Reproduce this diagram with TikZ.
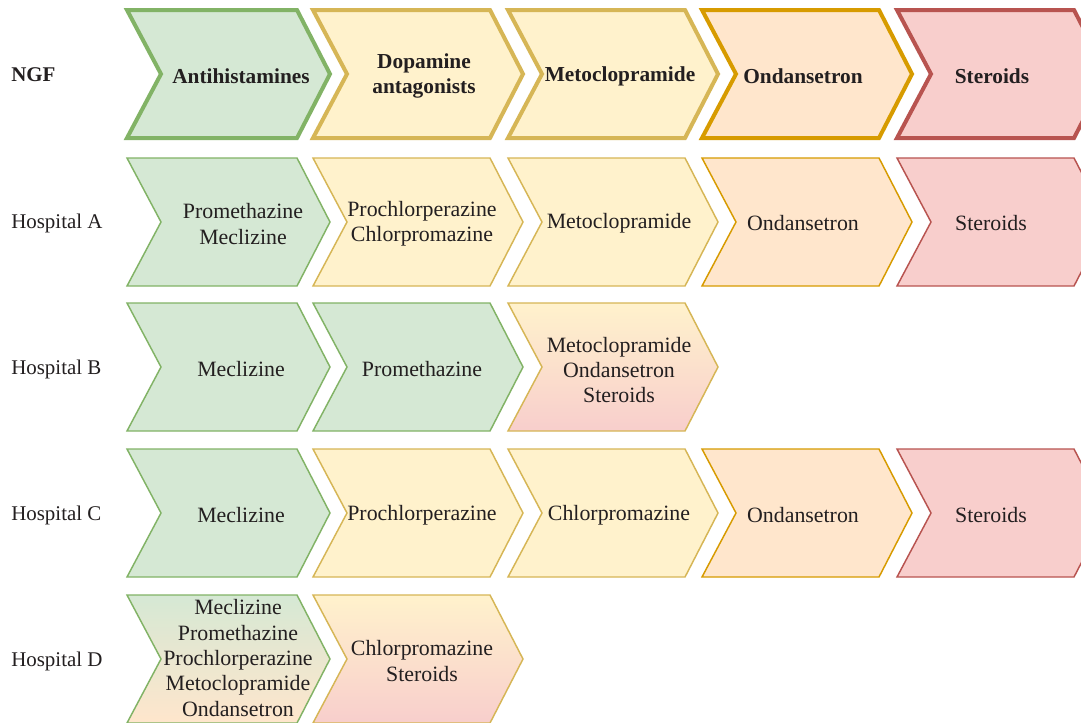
\documentclass[tikz,border=0pt]{standalone}
\usepackage{fontspec}
\setmainfont{Liberation Serif}
\definecolor{gfill}{HTML}{D5E8D4}\definecolor{gline}{HTML}{82B366}
\definecolor{yfill}{HTML}{FFF2CC}\definecolor{yline}{HTML}{D6B656}
\definecolor{ofill}{HTML}{FFE6CC}\definecolor{oline}{HTML}{D79B00}
\definecolor{rfill}{HTML}{F8CECC}\definecolor{rline}{HTML}{B85450}
\definecolor{txt}{HTML}{231F20}
\newcommand\chev[4]{\draw[#1] (#2,#4-64) -- (#3-33,#4-64) -- (#3,#4) -- (#3-33,#4+64) -- (#2,#4+64) -- (#2+34,#4) -- cycle;}
\tikzset{
  green/.style={fill=gfill,draw=gline},
  yellow/.style={fill=yfill,draw=yline},
  orange/.style={fill=ofill,draw=oline},
  red/.style={fill=rfill,draw=rline},
  thin/.style={line width=1.1pt,line join=miter},
  thick/.style={line width=3pt,line join=miter},
  lbl/.style={text=txt,align=center,inner sep=0pt,font=\fontsize{16.4}{19}\selectfont},
  hlbl/.style={lbl,font=\fontsize{16}{19}\selectfont\bfseries},
  side/.style={text=txt,anchor=west,inner sep=0pt,font=\fontsize{15.7}{19}\selectfont},
}
\begin{document}
\begin{tikzpicture}[x=0.75pt,y=-0.75pt]
\useasboundingbox[fill=white] (0,0) rectangle (1081,722);
\clip (0,0) rectangle (1081,722);
% row 1: NGF
\chev{green,thick}{127}{330}{74}
\chev{yellow,thick}{313}{523}{74}
\chev{yellow,thick}{508}{718}{74}
\chev{orange,thick}{702}{912}{74}
\chev{red,thick}{897}{1107}{74}
\node[side,font=\fontsize{15.7}{19}\selectfont\bfseries] (ngf) at (11,75) {NGF};
\node[hlbl] (n1) at (241,76) {Antihistamines};
\node[hlbl] (n2) at (424,76) {Dopamine\\antagonists};
\node[hlbl] (n3) at (620,76) {Metoclopramide};
\node[hlbl] (n4) at (803,76) {Ondansetron};
\node[hlbl] (n5) at (992,76) {Steroids};
% row 2: Hospital A
\chev{green,thin}{127}{330}{222}
\chev{yellow,thin}{313}{523}{222}
\chev{yellow,thin}{508}{718}{222}
\chev{orange,thin}{702}{912}{222}
\chev{red,thin}{897}{1107}{222}
\node[side] (ha) at (11,223) {Hospital A};
\node[lbl] (a1) at (243,224) {Promethazine\\Meclizine};
\node[lbl] (a2) at (422,224) {Prochlorperazine\\Chlorpromazine};
\node[lbl] (a3) at (619,223) {Metoclopramide};
\node[lbl] (a4) at (803,223) {Ondansetron};
\node[lbl] (a5) at (991,223) {Steroids};
% row 3: Hospital B
\chev{green,thin}{127}{330}{367}
\chev{green,thin}{313}{523}{367}
\chev{thin,top color=yfill,bottom color=rfill,draw=yline}{508}{718}{367}
\node[side] (hb) at (11,369) {Hospital B};
\node[lbl] (b1) at (241,369) {Meclizine};
\node[lbl] (b2) at (422,369) {Promethazine};
\node[lbl] (b3) at (619,370) {Metoclopramide\\Ondansetron\\Steroids};
% row 4: Hospital C
\chev{green,thin}{127}{330}{513}
\chev{yellow,thin}{313}{523}{513}
\chev{yellow,thin}{508}{718}{513}
\chev{orange,thin}{702}{912}{513}
\chev{red,thin}{897}{1107}{513}
\node[side] (hc) at (11,515) {Hospital C};
\node[lbl] (c1) at (241,515) {Meclizine};
\node[lbl] (c2) at (422,515) {Prochlorperazine};
\node[lbl] (c3) at (619,515) {Chlorpromazine};
\node[lbl] (c4) at (803,515) {Ondansetron};
\node[lbl] (c5) at (991,515) {Steroids};
% row 5: Hospital D
\chev{thin,top color=gfill,bottom color=ofill,draw=gline}{127}{330}{659}
\chev{thin,top color=yfill,bottom color=rfill,draw=yline}{313}{523}{659}
\node[side] (hd) at (11,661) {Hospital D};
\node[lbl] (d1) at (238,658) {Meclizine\\Promethazine\\Prochlorperazine\\Metoclopramide\\Ondansetron};
\node[lbl] (d2) at (422,661) {Chlorpromazine\\Steroids};
\end{tikzpicture}
\end{document}
